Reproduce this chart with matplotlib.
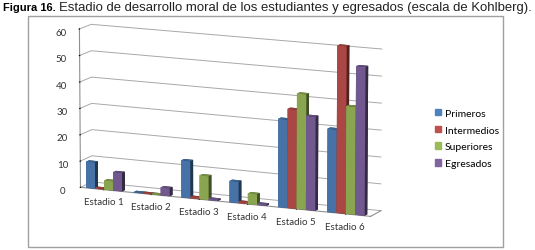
import numpy as np
import matplotlib
matplotlib.use("Agg")
import matplotlib.pyplot as plt
from matplotlib.patches import Rectangle

plt.rcParams['font.family'] = ['Lato', 'DejaVu Sans']

categories = ["Estadio 1", "Estadio 2", "Estadio 3", "Estadio 4", "Estadio 5", "Estadio 6"]
series_names = ["Primeros", "Intermedios", "Superiores", "Egresados"]
primeros = [10, 0.2, 14, 8, 33, 31]
intermedios = [0.3, 0.2, 0.5, 0.5, 37, 62]
superiores = [3.5, 0.2, 9, 4, 43, 40]
egresados = [7, 3, 0.5, 0.5, 35, 55]
colors = ["#4F81BD", "#C0504D", "#9BBB59", "#8064A2"]
yticks = [0, 10, 20, 30, 40, 50, 60]

series = [primeros, intermedios, superiores, egresados]

fig = plt.figure(figsize=(5.35, 2.51), dpi=100)

# frame round the chart
fig.patches.append(Rectangle((28/535, 3/251), 475/535, 231/251, transform=fig.transFigure,
                             fill=False, edgecolor="#a0a0a0", lw=1.0))

# title: bold part then regular part
r = fig.canvas.get_renderer()
t1 = fig.text(3/535, 1 - 8/251, "Figura 16.", fontsize=8, fontweight="bold",
              va="center", family="Liberation Sans")
bb = t1.get_window_extent(renderer=r)
fig.text(bb.x1/535 + 0.006, 1 - 8/251,
         "Estadio de desarrollo moral de los estudiantes y egresados (escala de Kohlberg).",
         fontsize=9.45, va="center", color="#222222", family="Liberation Sans")

# big axes instead of zoom > 1 (zoom clips the nearest/farthest bars)
ax = fig.add_axes([-0.115, -0.191, 1.069, 1.387], projection="3d")
ax.view_init(elev=12, azim=-66)
ax.set_proj_type("persp", focal_length=2.5)
ax.computed_zorder = False

bw = 0.19
depth = 0.25
x = np.arange(len(categories))
# draw left to right so nearer bars go on top
for j in range(len(categories)):
    for i, vals in enumerate(series):
        ax.bar3d(x[j] - 0.38 + i * bw, 0, 0, bw, depth, vals[j],
                 color=colors[i], shade=True, edgecolor="none")

ax.set_xlim(-0.5, len(categories) - 0.5)
ax.set_ylim(0, 1)
ax.set_zlim(0, 60)
ax.set_xticks(x)
ax.set_xticklabels(categories, fontsize=7, color="#333333")
ax.set_zticks(yticks)
ax.set_zticklabels([str(v) for v in yticks], fontsize=7, color="#333333")
ax.set_yticks([])
ax.set_box_aspect((7.0, 0.6, 3.6), zoom=1.0)
ax.zaxis.set_ticks_position("lower")
ax.zaxis.set_label_position("lower")
ax.patch.set_alpha(0)

for a in (ax.xaxis, ax.yaxis, ax.zaxis):
    a.set_pane_color((1, 1, 1, 0))
    a.pane.set_edgecolor("#b0b0b0")
    a.line.set_color("#909090")
ax.xaxis._axinfo['grid']['color'] = (1, 1, 1, 0)
ax.yaxis._axinfo['grid']['color'] = (1, 1, 1, 0)
ax.zaxis._axinfo['grid']['color'] = "#a8a8a8"
ax.zaxis._axinfo['grid']['linewidth'] = 0.7
ax.tick_params(axis="z", pad=0)
ax.tick_params(axis="x", pad=-2)

handles = [Rectangle((0, 0), 1, 1, color=c) for c in colors]
fig.legend(handles, series_names, loc="upper left", bbox_to_anchor=(0.795, 0.6),
           frameon=False, fontsize=7.5, handlelength=0.6, handleheight=0.6,
           handletextpad=0.4, labelspacing=0.75)

fig.savefig("out.png", dpi=100)
